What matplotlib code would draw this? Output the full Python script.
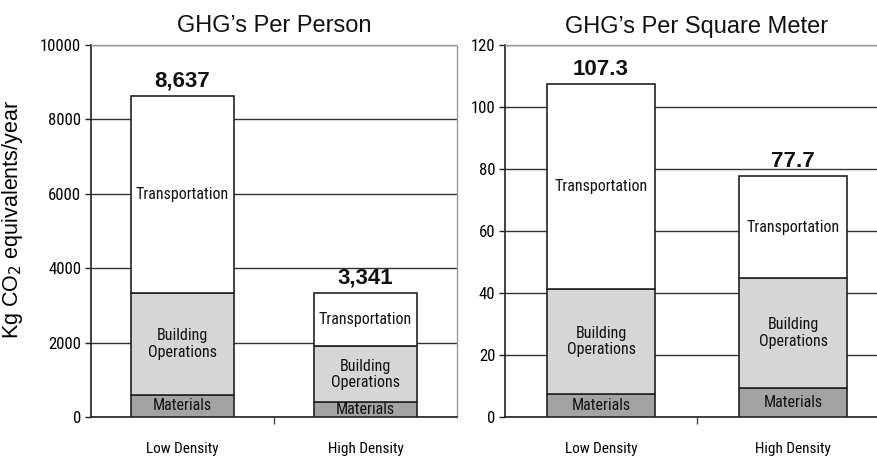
import matplotlib
matplotlib.use("Agg")
import matplotlib.pyplot as plt
from matplotlib import font_manager
from matplotlib.font_manager import FontProperties

categories = ["Low Density", "High Density"]
segments = ["Materials", "Building\nOperations", "Transportation"]

person_materials = [600, 400]
person_building = [2725, 1500]
person_transport = [5312, 1441]
person_totals = ["8,637", "3,341"]

sqm_materials = [7.3, 9.5]
sqm_building = [34.1, 35.2]
sqm_transport = [65.9, 33.0]
sqm_totals = ["107.3", "77.7"]

person_ticks = [0, 2000, 4000, 6000, 8000, 10000]
sqm_ticks = [0, 20, 40, 60, 80, 100, 120]

# pick a condensed face if one is installed
narrow_file = None
prefs = []
for f in font_manager.fontManager.ttflist:
    fn = f.fname.lower()
    score = None
    if "liberationsansnarrow-regular" in fn:
        score = 0
    elif "robotocondensed-regular" in fn:
        score = 1
    elif "opensans_condensed-regular" in fn or "opensanscondensed-regular" in fn:
        score = 2
    elif fn.endswith("dejavusanscondensed.ttf"):
        score = 3
    if score is not None:
        prefs.append((score, f.fname))
if prefs:
    prefs.sort()
    narrow_file = prefs[0][1]

def nfont(size):
    if narrow_file:
        return FontProperties(fname=narrow_file, size=size)
    return FontProperties(family="Liberation Sans", size=size * 0.9)

plt.rcParams["font.family"] = ["Liberation Sans", "DejaVu Sans"]

colors = ["#a3a3a3", "#d6d6d6", "#ffffff"]
W, H = 877, 459
fig = plt.figure(figsize=(W / 100, H / 100), dpi=100)

def make_panel(rect, mats, bld, trn, totals, ticks, title, xmax):
    ax = fig.add_axes(rect)
    x = list(range(len(categories)))
    bw = 0.56
    bottoms = [0] * len(x)
    vals_list = [mats, bld, trn]
    for seg, vals, c in zip(segments, vals_list, colors):
        ax.bar(x, vals, bw, bottom=bottoms, color=c, edgecolor="#222222",
               linewidth=1.2, zorder=3)
        for xi, v, b in zip(x, vals, bottoms):
            ax.text(xi, b + v / 2, seg, ha="center", va="center",
                    fontproperties=nfont(11.5),
                    color="#111111", zorder=4, linespacing=1.1)
        bottoms = [b + v for b, v in zip(bottoms, vals)]
    for xi, top, lab in zip(x, bottoms, totals):
        ax.annotate(lab, (xi, top), xytext=(0, 3), textcoords="offset points",
                    ha="center", va="bottom", fontsize=16, fontweight="bold",
                    color="#111111")
    ax.set_xlim(-0.5, xmax)
    ax.set_ylim(ticks[0], ticks[-1])
    ax.set_yticks(ticks)
    ax.set_yticklabels([str(t) for t in ticks])
    for lab in ax.get_yticklabels():
        lab.set_fontproperties(nfont(12))
    ax.tick_params(axis="y", length=4, width=1, color="#222222", pad=3)
    ax.yaxis.grid(True, color="#333333", linewidth=1.0, zorder=0)
    ax.set_axisbelow(True)
    ax.set_xticks([0.5])
    ax.set_xticklabels([""])
    ax.tick_params(axis="x", which="major", length=5, width=1, color="#444444")
    ax.set_xticks(x, minor=True)
    ax.set_xticklabels(categories, minor=True)
    for lab in ax.get_xticklabels(minor=True):
        lab.set_fontproperties(nfont(11))
    ax.tick_params(axis="x", which="minor", length=0, pad=18)
    for s in ["top", "right"]:
        ax.spines[s].set_linestyle((0, (1, 1)))
        ax.spines[s].set_color("#999999")
        ax.spines[s].set_linewidth(1.0)
    for s in ["left", "bottom"]:
        ax.spines[s].set_color("#222222")
        ax.spines[s].set_linewidth(1.2)
    ax.set_title(title, fontsize=17, pad=9, color="#111111")
    return ax

bottom = 1 - 417 / H
height = (417 - 45) / H
ax1 = make_panel([91 / W, bottom, (457 - 91) / W, height],
                 person_materials, person_building, person_transport,
                 person_totals, person_ticks, "GHG\u2019s Per Person", 1.5)
ax1.set_ylabel("Kg CO$_2$ equivalents/year", fontsize=15.5)
ax1.yaxis.set_label_coords((25 - 91) / 366, 0.53)

ax2 = make_panel([505 / W, bottom, (889 - 505) / W, height],
                 sqm_materials, sqm_building, sqm_transport,
                 sqm_totals, sqm_ticks, "GHG\u2019s Per Square Meter", 1.5)

fig.savefig("out.png", dpi=100, facecolor="white")
